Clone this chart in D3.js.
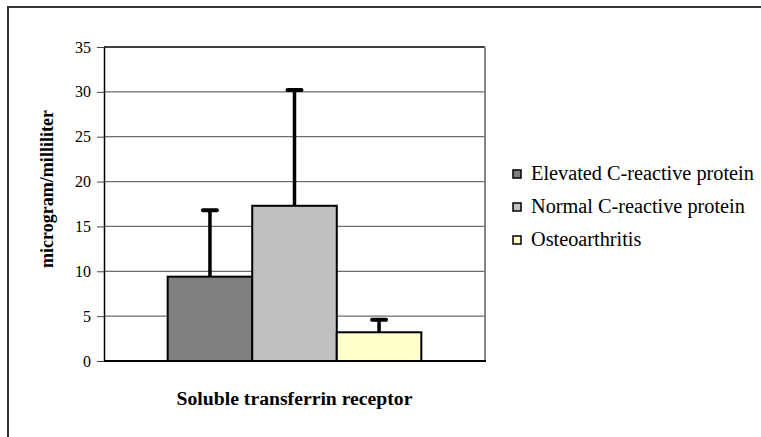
<!DOCTYPE html>
<html>
<head>
<meta charset="utf-8">
<script src="https://cdn.jsdelivr.net/npm/d3@7"></script>
<style>
  html, body { margin: 0; padding: 0; background: #fff; }
  svg { display: block; }
</style>
</head>
<body>
<svg id="chart" width="761" height="437"></svg>
<script>
const categories = ["Soluble transferrin receptor"];
const series = ["Elevated C-reactive protein", "Normal C-reactive protein", "Osteoarthritis"];
const means = [9.4, 17.3, 3.2];
const errors = [7.4, 12.9, 1.4];
const yTicks = [0, 5, 10, 15, 20, 25, 30, 35];
const colors = ["#808080", "#c0c0c0", "#ffffcc"];

const serif = "'Liberation Serif', 'Times New Roman', serif";
const svg = d3.select("#chart");

// scale a text's font size so it spans roughly the width seen in the original
function fitWidth(sel, target, base) {
    const w = sel.node().getComputedTextLength();
    const size = base * target / w;
    sel.style("font-size", size + "px");
    return size;
}

// outer frame, runs off right and bottom like the original
svg.append("rect")
    .attr("x", 8).attr("y", 7)
    .attr("width", 800).attr("height", 480)
    .attr("fill", "none")
    .attr("stroke", "#333")
    .attr("stroke-width", 2);

const plot = { left: 104, right: 485, top: 47, bottom: 361 };

const y = d3.scaleLinear().domain([0, 35]).range([plot.bottom, plot.top]);
const x0 = d3.scaleBand().domain(categories)
    .range([plot.left, plot.right])
    .paddingInner(0).paddingOuter(0.251);
const x1 = d3.scaleBand().domain(series).range([0, x0.bandwidth()]);

// gridlines
svg.append("g")
    .selectAll("line")
    .data(yTicks.filter(d => d > 0))
    .join("line")
    .attr("x1", plot.left).attr("x2", plot.right)
    .attr("y1", d => y(d)).attr("y2", d => y(d))
    .attr("stroke", d => d === 35 ? "#000" : "#6e6e6e")
    .attr("stroke-width", 1.3);

// right border of plot
svg.append("line")
    .attr("x1", plot.right).attr("x2", plot.right)
    .attr("y1", plot.top).attr("y2", plot.bottom)
    .attr("stroke", "#888").attr("stroke-width", 2);

// bars
const data = series.map((s, i) => ({ key: s, value: means[i], err: errors[i], color: colors[i] }));

const grp = svg.append("g")
    .attr("transform", `translate(${x0(categories[0])},0)`);

grp.selectAll("rect")
    .data(data)
    .join("rect")
    .attr("x", d => x1(d.key))
    .attr("y", d => y(d.value))
    .attr("width", x1.bandwidth())
    .attr("height", d => y(0) - y(d.value))
    .attr("fill", d => d.color)
    .attr("stroke", "#000")
    .attr("stroke-width", 2);

// error bars (upper only)
const eb = grp.selectAll("g.err")
    .data(data)
    .join("g")
    .attr("class", "err");

eb.append("line")
    .attr("x1", d => x1(d.key) + x1.bandwidth() / 2)
    .attr("x2", d => x1(d.key) + x1.bandwidth() / 2)
    .attr("y1", d => y(d.value))
    .attr("y2", d => y(d.value + d.err))
    .attr("stroke", "#000")
    .attr("stroke-width", 3.5);

eb.append("line")
    .attr("x1", d => x1(d.key) + x1.bandwidth() / 2 - 7)
    .attr("x2", d => x1(d.key) + x1.bandwidth() / 2 + 7)
    .attr("y1", d => y(d.value + d.err))
    .attr("y2", d => y(d.value + d.err))
    .attr("stroke", "#000")
    .attr("stroke-width", 4)
    .attr("stroke-linecap", "round");

// y axis
const yAxis = svg.append("g")
    .attr("transform", `translate(${plot.left},0)`)
    .call(d3.axisLeft(y).tickValues(yTicks).tickSize(7).tickSizeOuter(0).tickPadding(6));
yAxis.attr("font-family", null).attr("font-size", null);
yAxis.select(".domain").attr("stroke", "#000").attr("stroke-width", 1.5);
yAxis.selectAll(".tick line").attr("stroke", "#444");
yAxis.selectAll("text")
    .style("font-family", serif)
    .style("font-size", "16px")
    .attr("fill", "#000");

// x axis line
svg.append("line")
    .attr("x1", plot.left).attr("x2", plot.right + 1)
    .attr("y1", plot.bottom).attr("y2", plot.bottom)
    .attr("stroke", "#000").attr("stroke-width", 2);

// axis titles
const yTitle = svg.append("text")
    .attr("transform", "translate(53,189) rotate(-90)")
    .attr("text-anchor", "middle")
    .style("font-family", serif)
    .style("font-size", "16px")
    .style("font-weight", "bold")
    .text("microgram/milliliter");
fitWidth(yTitle, 158, 16);

const xTitle = svg.append("text")
    .attr("x", x0(categories[0]) + x0.bandwidth() / 2)
    .attr("y", 405)
    .attr("text-anchor", "middle")
    .style("font-family", serif)
    .style("font-size", "16px")
    .style("font-weight", "bold")
    .text(categories[0]);
fitWidth(xTitle, 236, 16);

// legend
const legendY = [174, 207, 240];
const leg = svg.append("g")
    .selectAll("g")
    .data(data)
    .join("g")
    .attr("transform", (d, i) => `translate(513,${legendY[i]})`);

leg.append("rect")
    .attr("x", 0).attr("y", -4)
    .attr("width", 8).attr("height", 8)
    .attr("fill", d => d.color)
    .attr("stroke", "#000")
    .attr("stroke-width", 1.5);

const legText = leg.append("text")
    .attr("x", 18)
    .attr("y", 5.5)
    .style("font-family", serif)
    .style("font-size", "16px")
    .attr("fill", "#000")
    .text(d => d.key);
const legSize = fitWidth(d3.select(legText.nodes()[0]), 223, 16);
legText.style("font-size", legSize + "px");
</script>
</body>
</html>
